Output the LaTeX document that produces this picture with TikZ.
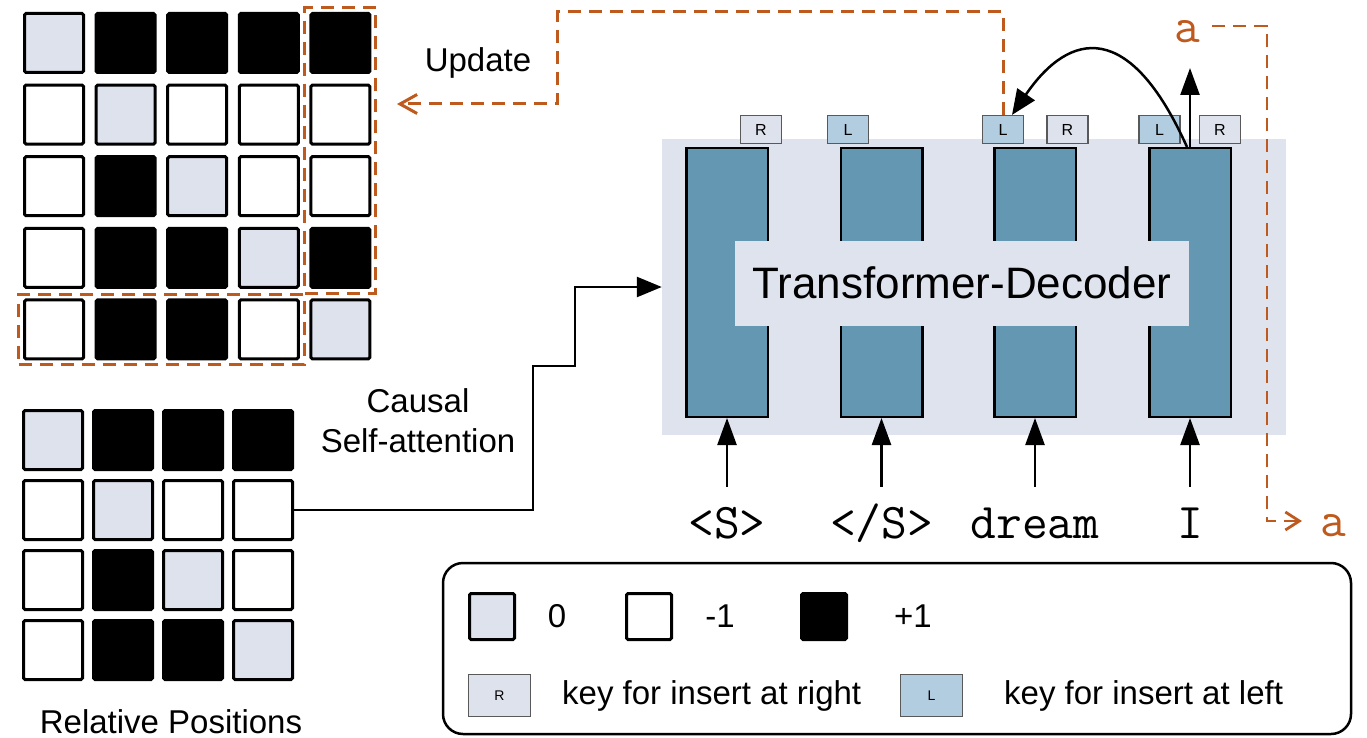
\documentclass[tikz,border=0pt]{standalone}
\usepackage{fontspec}
\setmainfont{Liberation Sans}
\usetikzlibrary{arrows.meta,calc,fit}

\definecolor{zerocol}{HTML}{DEE2EC}
\definecolor{tfbgcol}{HTML}{DFE3EE}
\definecolor{colfill}{HTML}{6497B1}
\definecolor{keyLcol}{HTML}{B3CDE0}
\definecolor{keyRcol}{HTML}{DEE2EC}
\definecolor{updcol}{HTML}{BF5A1E}

\begin{document}
\begin{tikzpicture}[x=1pt,y=-1pt,
  cellbase/.style={draw=black,line width=3pt,minimum width=59pt,minimum height=59pt,inner sep=0pt,rounded corners=1.5pt},
  cz/.style={cellbase,fill=zerocol},
  cn/.style={cellbase,fill=white},
  cp/.style={cellbase,fill=black},
  txt/.style={font=\fontsize{33}{40}\selectfont,inner sep=0pt},
  tok/.style={font=\ttfamily\fontsize{50}{56}\selectfont,inner sep=0pt,text height=30pt,text depth=8pt,anchor=base},
  column/.style={draw=black,line width=2.5pt,fill=colfill,minimum width=81.5pt,minimum height=268.5pt,inner sep=0pt},
  keybox/.style={draw=black!65,line width=1.2pt,minimum width=41pt,minimum height=28pt,inner sep=0pt,font=\fontsize{16}{16}\selectfont},
  keyL/.style={keybox,fill=keyLcol,label={[font=\fontsize{16}{16}\selectfont]center:L}},
  keyR/.style={keybox,fill=keyRcol},
  upar/.style={line width=2.5pt,-{Triangle[length=27pt,width=19pt]}},
  updline/.style={draw=updcol,line width=3pt,dash pattern=on 13pt off 8pt},
  updthin/.style={draw=updcol,line width=2.8pt,dash pattern=on 13pt off 8pt},
]
\useasboundingbox (0,0) rectangle (1367,738);

% 5x5 matrix of relative positions
\foreach \rowvals [count=\i] in {{cz,cp,cp,cp,cp},{cn,cz,cn,cn,cn},{cn,cp,cz,cn,cn},{cn,cp,cp,cz,cp},{cn,cp,cp,cn,cz}}
  \foreach \st [count=\j] in \rowvals
    \node[\st] (t-\i-\j) at ({54+71.6*(\j-1)},{43+71.6*(\i-1)}) {};

% updated column and row
\node[fit=(t-1-5)(t-4-5),inner sep=4.5pt,updline] (newcol) {};
\node[fit=(t-5-1)(t-5-4),inner sep=4.2pt,updline] (newrow) {};

% 4x4 matrix
\foreach \rowvals [count=\i] in {{cz,cp,cp,cp},{cn,cz,cn,cn},{cn,cp,cz,cn},{cn,cp,cp,cz}}
  \foreach \st [count=\j] in \rowvals
    \node[\st] (b-\i-\j) at ({53+70*(\j-1)},{440+70*(\i-1)}) {};

\node[txt,anchor=base] (relpos) at (171,733) {Relative Positions};
\node[txt,align=center] (causal) at (418,421) {Causal\\Self-attention};

% decoder
\node[fill=tfbgcol,minimum width=624pt,minimum height=296pt,inner sep=0pt] (tfbg) at (974,287) {};
\node[column] (col1) at (727,282.5) {};
\node[column] (col2) at (881.5,282.5) {};
\node[column] (col3) at (1035,282.5) {};
\node[column] (col4) at (1190,282.5) {};
\node[fill=tfbgcol,minimum width=454pt,minimum height=85pt,inner sep=0pt,font=\fontsize{44}{50}\selectfont] (tflabel) at (962,283) {Transformer-Decoder};

% insertion keys
\node[keyR] (k1R) at (761,129.5) {R};
\node[keyL] (k2L) at (848,129.5) {};
\node[keyL] (k3L) at (1003,129.5) {};
\node[keyR] (k3R) at (1067.5,129.5) {R};
\node[keyL] (k4L) at (1159.5,129.5) {};
\node[keyR] (k4R) at (1220,129.5) {R};

% input tokens
\node[tok] (tok1) at (727,538) {<S>};
\node[tok] (tok2) at (881.5,538) {</S>};
\node[tok] (tok3) at (1035,538) {dream};
\node[tok] (tok4) at (1190,538) {I};
\foreach \k in {1,2,3,4}
  \draw[upar] ([yshift=21pt]tok\k.north) -- (col\k.south);

% output token
\node[tok,text=updcol] (outa) at (1187,43) {a};
\coordinate (outtip) at (1190,68);
\draw[upar] (col4.north) -- (outtip);
\draw[line width=2.5pt,-{Triangle[length=25pt,width=21pt]}]
  ([xshift=-3pt]col4.north) .. controls (1130,20) and (1070,30) .. ([xshift=9pt]k3L.north);

% update of the relative position matrix
\coordinate (updtip) at (397,104);
\draw[updline,-{Straight Barb[length=17pt,width=19pt]}] (k3L.north) |- (557,12) |- (updtip);
\node[txt,anchor=base] (updlbl) at (478,72) {Update};

% the output is fed back as the next input
\node[tok,text=updcol] (ina) at (1333,536) {a};
\draw[updthin,-{Straight Barb[length=14pt,width=18pt]}] ([xshift=12pt,yshift=17pt]outa.base east) -| (1267,521) -- ([xshift=-18pt,yshift=15pt]ina.base west);

% attention mask into the decoder
\draw[line width=2.5pt,-{Triangle[length=25pt,width=20pt]}] (b-2-4.east) -| (533,366) -| (575,287) -- (tfbg.west);

% legend
\node[draw=black,line width=2.5pt,rounded corners=20pt,minimum width=908pt,minimum height=171pt,inner sep=0pt] (legend) at (897,648.5) {};
\node[cellbase,fill=zerocol,minimum width=45pt,minimum height=46pt] (lg0) at (492,616.5) {};
\node[txt] (lg0t) at (557,616) {0};
\node[cellbase,fill=white,minimum width=45pt,minimum height=46pt] (lgm) at (649,616.5) {};
\node[txt] (lgmt) at (720,616) {-1};
\node[cellbase,fill=black,minimum width=45pt,minimum height=46pt] (lgp) at (824,616.5) {};
\node[txt] (lgpt) at (913,616) {+1};
\node[keybox,fill=keyRcol,minimum width=62pt,minimum height=42pt,font=\fontsize{14}{14}\selectfont] (lgR) at (499.5,695.5) {R};
\node[txt,anchor=west] (lgRt) at (562,695.5) {key for insert at right};
\node[keybox,fill=keyLcol,minimum width=62pt,minimum height=42pt,font=\fontsize{14}{14}\selectfont] (lgL) at (931.5,695.5) {L};
\node[txt,anchor=west] (lgLt) at (1004,695.5) {key for insert at left};
\end{tikzpicture}
\end{document}
